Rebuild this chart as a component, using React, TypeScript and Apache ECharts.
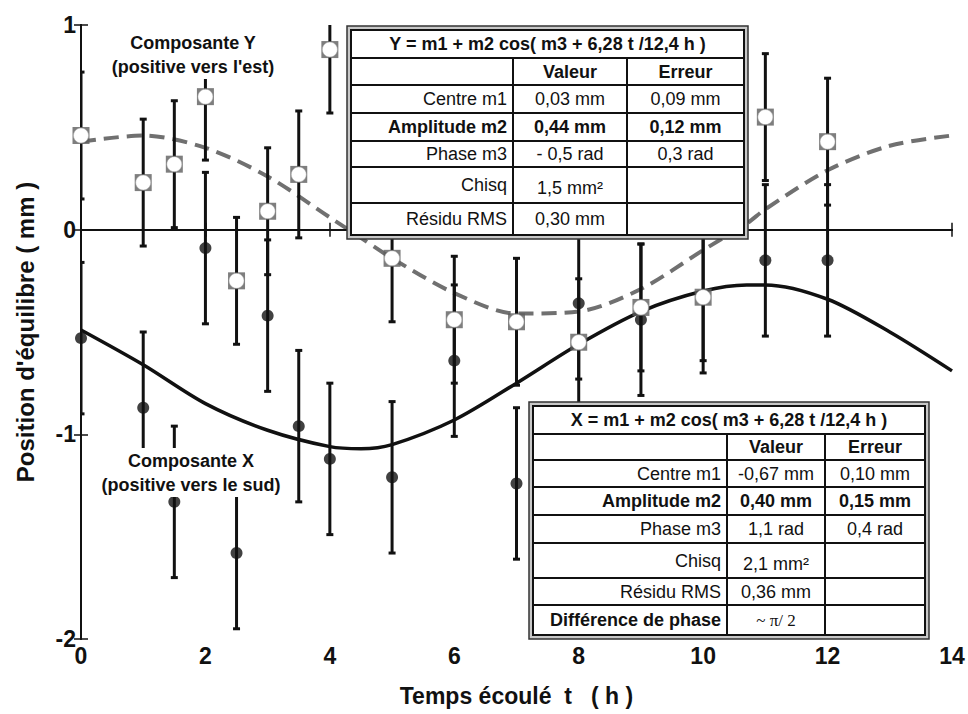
import React, { useEffect, useRef } from "react";
import * as echarts from "echarts";

// ---- data ----
const T_POINTS = [0, 1, 1.5, 2, 2.5, 3, 3.5, 4, 5, 6, 7, 8, 9, 10, 11, 12];
const Y_VALUES = [0.46, 0.23, 0.32, 0.65, -0.25, 0.09, 0.27, 0.88, -0.14, -0.44, -0.45, -0.55, -0.38, -0.33, 0.55, 0.43];
const Y_ERRORS = [0.31, 0.31, 0.31, 0.31, 0.31, 0.31, 0.31, 0.31, 0.31, 0.31, 0.31, 0.31, 0.31, 0.31, 0.31, 0.31];
const X_VALUES = [-0.53, -0.87, -1.33, -0.09, -1.58, -0.42, -0.96, -1.12, -1.21, -0.64, -1.24, -0.36, -0.44, -0.33, -0.15, -0.15];
const X_ERRORS = [0.37, 0.37, 0.37, 0.37, 0.37, 0.37, 0.37, 0.37, 0.37, 0.37, 0.37, 0.37, 0.37, 0.37, 0.37, 0.37];

const T_CURVE = [0, 1, 2, 3, 4, 4.5, 5, 6, 7, 8, 9, 10, 10.7, 11, 12, 13, 14];
const Y_FIT = [0.43, 0.46, 0.40, 0.26, 0.06, -0.04, -0.14, -0.31, -0.41, -0.40, -0.29, -0.10, 0.03, 0.10, 0.29, 0.41, 0.46];
const X_FIT = [-0.49, -0.66, -0.85, -0.98, -1.06, -1.07, -1.05, -0.93, -0.75, -0.56, -0.40, -0.30, -0.27, -0.27, -0.34, -0.50, -0.69];

const Y_TABLE_TITLE = "Y = m1 + m2 cos( m3 + 6,28 t /12,4 h )";
const Y_TABLE_ROWS = [
  ["", "Valeur", "Erreur"],
  ["Centre m1", "0,03 mm", "0,09 mm"],
  ["Amplitude m2", "0,44 mm", "0,12 mm"],
  ["Phase m3", "- 0,5 rad", "0,3 rad"],
  ["Chisq", "1,5 mm²", ""],
  ["Résidu RMS", "0,30 mm", ""],
];
const X_TABLE_TITLE = "X = m1 + m2 cos( m3 + 6,28 t /12,4 h )";
const X_TABLE_ROWS = [
  ["", "Valeur", "Erreur"],
  ["Centre m1", "-0,67 mm", "0,10 mm"],
  ["Amplitude m2", "0,40 mm", "0,15 mm"],
  ["Phase m3", "1,1 rad", "0,4 rad"],
  ["Chisq", "2,1 mm²", ""],
  ["Résidu RMS", "0,36 mm", ""],
  ["Différence de phase", "~ π/ 2", ""],
];

const FONT = "'Liberation Sans', Arial, Helvetica, sans-serif";
const INK = "#111";

function buildTable(
  colX: number[],
  rowY: number[],
  title: string,
  rows: string[][],
  boldRows: number[],
  boldCells: string[],
  serifCells: string[]
) {
  const left = colX[0];
  const right = colX[colX.length - 1];
  const top = rowY[0];
  const bottom = rowY[rowY.length - 1];
  const Z = 100;
  const els: any[] = [];
  els.push({
    type: "rect",
    z: Z,
    shape: { x: left - 4, y: top - 4, width: right - left + 8, height: bottom - top + 8 },
    style: { fill: "#c8c8c8", stroke: "#333", lineWidth: 1.5 },
  });
  els.push({
    type: "rect",
    z: Z + 1,
    shape: { x: left, y: top, width: right - left, height: bottom - top },
    style: { fill: "#fff", stroke: INK, lineWidth: 2 },
  });
  for (let i = 1; i < rowY.length - 1; i++) {
    els.push({
      type: "line",
      z: Z + 2,
      shape: { x1: left, y1: rowY[i], x2: right, y2: rowY[i] },
      style: { stroke: INK, lineWidth: 2 },
    });
  }
  for (let j = 1; j < colX.length - 1; j++) {
    els.push({
      type: "line",
      z: Z + 2,
      shape: { x1: colX[j], y1: rowY[1], x2: colX[j], y2: bottom },
      style: { stroke: INK, lineWidth: 2 },
    });
  }
  els.push({
    type: "text",
    z: Z + 3,
    x: (left + right) / 2,
    y: (rowY[0] + rowY[1]) / 2,
    style: {
      text: title,
      fill: INK,
      font: `bold 18px ${FONT}`,
      align: "center",
      verticalAlign: "middle",
    },
  });
  rows.forEach((row, r) => {
    const yc = (rowY[r + 1] + rowY[r + 2]) / 2;
    row.forEach((cell, c) => {
      if (!cell) return;
      const bold = boldRows.includes(r) || boldCells.includes(cell);
      const serif = serifCells.includes(cell);
      const isSup = cell.includes("²");
      els.push({
        type: "text",
        z: Z + 3,
        x: c === 0 ? colX[1] - 6 : (colX[c] + colX[c + 1]) / 2,
        y: isSup ? yc + 3 : yc,
        style: {
          text: cell,
          fill: INK,
          font: `${bold ? "bold " : ""}${serif ? "17px 'Liberation Serif', 'Times New Roman', serif" : "18px " + FONT}`,
          align: c === 0 ? "right" : "center",
          verticalAlign: "middle",
        },
      });
    });
  });
  return els;
}

function labelBlock(cx: number, y1: number, y2: number, l1: string, l2: string, bg: number[]) {
  return [
    {
      type: "rect",
      z: 50,
      shape: { x: bg[0], y: bg[1], width: bg[2], height: bg[3] },
      style: { fill: "#fff" },
    },
    {
      type: "text",
      z: 51,
      x: cx,
      y: y1,
      style: { text: l1, fill: INK, font: `bold 18px ${FONT}`, align: "center", verticalAlign: "middle" },
    },
    {
      type: "text",
      z: 51,
      x: cx,
      y: y2,
      style: { text: l2, fill: INK, font: `bold 18px ${FONT}`, align: "center", verticalAlign: "middle" },
    },
  ];
}

function errorBarItem(params: any, api: any) {
  const t = api.value(0);
  const lo = api.value(1);
  const hi = api.value(2);
  const pTop = api.coord([t, hi]);
  const pBot = api.coord([t, lo]);
  const cap = 3.5;
  return {
    type: "group",
    children: [
      {
        type: "line",
        shape: { x1: pTop[0], y1: pTop[1], x2: pBot[0], y2: pBot[1] },
        style: { stroke: INK, lineWidth: 3 },
      },
      {
        type: "line",
        shape: { x1: pTop[0] - cap, y1: pTop[1], x2: pTop[0] + cap, y2: pTop[1] },
        style: { stroke: INK, lineWidth: 3 },
      },
      {
        type: "line",
        shape: { x1: pBot[0] - cap, y1: pBot[1], x2: pBot[0] + cap, y2: pBot[1] },
        style: { stroke: INK, lineWidth: 3 },
      },
    ],
  };
}

export default function App() {
  const ref = useRef<HTMLDivElement>(null);
  useEffect(() => {
    if (!ref.current) return;
    document.body.style.margin = "0";
    const chart = echarts.init(ref.current, undefined, { renderer: "svg" });

    const yBars = T_POINTS.map((t, i) => [t, Y_VALUES[i] - Y_ERRORS[i], Y_VALUES[i] + Y_ERRORS[i]]);
    const xBars = T_POINTS.map((t, i) => [t, X_VALUES[i] - X_ERRORS[i], X_VALUES[i] + X_ERRORS[i]]);
    const yPts = T_POINTS.map((t, i) => [t, Y_VALUES[i]]);
    const xPts = T_POINTS.map((t, i) => [t, X_VALUES[i]]);
    const yFit = T_CURVE.map((t, i) => [t, Y_FIT[i]]);
    const xFit = T_CURVE.map((t, i) => [t, X_FIT[i]]);

    const axisLine = { show: true, lineStyle: { color: INK, width: 2 } };
    const tick = { show: true, inside: true, length: 7, lineStyle: { color: INK, width: 1.5 } };
    const tickLabel = { fontSize: 23, fontWeight: "bold", color: INK, fontFamily: FONT };

    const graphic = [
      ...labelBlock(193, 43, 67, "Composante Y", "(positive vers l'est)", [97, 30, 195, 49]),
      ...labelBlock(191, 461, 485, "Composante X", "(positive vers le sud)", [92, 448, 200, 49]),
      ...buildTable([351, 513, 627, 744], [30, 58, 85, 113, 141, 167, 203, 235], Y_TABLE_TITLE, Y_TABLE_ROWS, [0, 2], [], []),
      ...buildTable(
        [533, 727, 825, 925],
        [406, 434, 460, 487, 515, 543, 578, 605, 635],
        X_TABLE_TITLE,
        X_TABLE_ROWS,
        [0, 2],
        ["Différence de phase"],
        ["~ π/ 2"]
      ),
    ];

    chart.setOption({
      animation: false,
      backgroundColor: "#fff",
      grid: { left: 81, right: 16, top: 25, bottom: 75, containLabel: false },
      xAxis: [
        {
          type: "value",
          min: 0,
          max: 14,
          interval: 2,
          position: "bottom",
          axisLine,
          axisTick: tick,
          splitLine: { show: false },
          axisLabel: { ...tickLabel, margin: 5 },
          name: "Temps écoulé  t   ( h )",
          nameLocation: "middle",
          nameGap: 45,
          nameTextStyle: { fontSize: 23, fontWeight: "bold", color: INK, fontFamily: FONT },
        },
        {
          type: "value",
          min: 0,
          max: 14,
          interval: 2,
          position: "top",
          axisLine,
          axisTick: tick,
          splitLine: { show: false },
          axisLabel: { show: false },
        },
      ],
      yAxis: [
        {
          type: "value",
          min: -2,
          max: 1,
          interval: 1,
          position: "left",
          axisLine,
          axisTick: tick,
          splitLine: { show: false },
          axisLabel: { ...tickLabel, margin: 5 },
          name: "Position d'équilibre ( mm )",
          nameLocation: "middle",
          nameGap: 44,
          nameRotate: 90,
          nameTextStyle: { fontSize: 24, fontWeight: "bold", color: INK, fontFamily: FONT },
        },
        {
          type: "value",
          min: -2,
          max: 1,
          interval: 1,
          position: "right",
          axisLine,
          axisTick: tick,
          splitLine: { show: false },
          axisLabel: { show: false },
        },
      ],
      series: [
        {
          name: "Ajustement Y",
          type: "line",
          data: yFit,
          smooth: 0.3,
          showSymbol: false,
          lineStyle: { color: "#707070", width: 4, type: [15, 8] },
          z: 2,
        },
        {
          name: "Ajustement X",
          type: "line",
          data: xFit,
          smooth: 0.3,
          showSymbol: false,
          lineStyle: { color: INK, width: 3.5 },
          z: 2,
          markLine: {
            silent: true,
            symbol: "none",
            label: { show: false },
            lineStyle: { color: INK, width: 2, type: "solid" },
            data: [{ yAxis: 0 }],
          },
        },
        {
          name: "Erreur X",
          type: "custom",
          data: xBars,
          renderItem: errorBarItem,
          clip: true,
          z: 3,
        },
        {
          name: "Erreur Y",
          type: "custom",
          data: yBars,
          renderItem: errorBarItem,
          clip: true,
          z: 3,
        },
        {
          name: "Composante X",
          type: "scatter",
          data: xPts,
          symbol: "circle",
          symbolSize: 12,
          itemStyle: { color: INK },
          z: 4,
        },
        {
          name: "Composante Y cadre",
          type: "scatter",
          data: yPts,
          symbol: "rect",
          symbolSize: 17,
          itemStyle: { color: "#5e5e5e" },
          z: 5,
        },
        {
          name: "Composante Y",
          type: "scatter",
          data: yPts,
          symbol: "circle",
          symbolSize: 15,
          itemStyle: { color: "#fff", borderColor: "#aaa", borderWidth: 0.5, opacity: 1 },
          emphasis: { disabled: true },
          z: 6,
        },
      ],
      graphic,
    });
    return () => chart.dispose();
  }, []);
  return <div ref={ref} style={{ position: "fixed", left: 0, top: 0, width: 968, height: 714 }} />;
}
